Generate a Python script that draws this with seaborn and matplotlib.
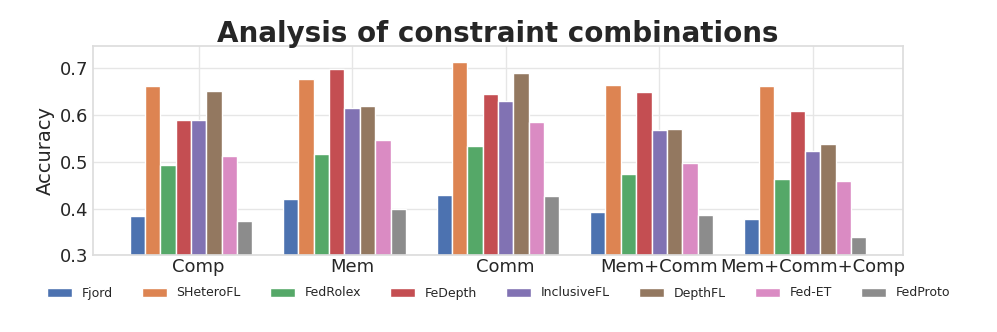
import numpy as np
import matplotlib
matplotlib.use('Agg')
import matplotlib.pyplot as plt
import seaborn as sns

# constraint combinations on the x axis
combos = ['Comp', 'Mem', 'Comm', 'Mem+Comm', 'Mem+Comm+Comp']
methods = ['Fjord', 'SHeteroFL', 'FedRolex', 'FeDepth', 'InclusiveFL', 'DepthFL', 'Fed-ET', 'FedProto']

# accuracy per method, one value per combination
fjord = [0.383, 0.421, 0.429, 0.392, 0.378]
sheterofl = [0.662, 0.678, 0.714, 0.664, 0.662]
fedrolex = [0.494, 0.516, 0.533, 0.474, 0.464]
fedepth = [0.590, 0.699, 0.646, 0.650, 0.608]
inclusivefl = [0.590, 0.614, 0.630, 0.569, 0.522]
depthfl = [0.651, 0.619, 0.689, 0.570, 0.537]
fed_et = [0.512, 0.546, 0.585, 0.498, 0.458]
fedproto = [0.373, 0.398, 0.427, 0.387, 0.340]

scores = [fjord, sheterofl, fedrolex, fedepth, inclusivefl, depthfl, fed_et, fedproto]

sns.set_theme(style='whitegrid', font_scale=1.2)
colors = sns.color_palette('deep', len(methods))

fig, ax = plt.subplots(figsize=(9.97, 3.32), dpi=100)
fig.subplots_adjust(left=0.093, right=0.906, top=0.862, bottom=0.231)

x = np.arange(len(combos))
width = 0.1
for i, (name, vals) in enumerate(zip(methods, scores)):
    ax.bar(x + (i - len(methods) / 2) * width, vals, width, label=name, color=colors[i])

ax.set_xticks(x)
ax.set_xticklabels(combos, fontsize=13)
ax.tick_params(axis='x', length=0, pad=2)
ax.tick_params(axis='y', labelsize=13, length=0, pad=3)
ax.set_ylim(0.3, 0.748)
ax.set_ylabel('Accuracy', fontsize=14, labelpad=4)
ax.set_title('Analysis of constraint combinations', fontsize=20, fontweight='bold', pad=2.5)
for s in ax.spines.values():
    s.set_color('#dddddd')
ax.grid(color='#e6e6e6')

fig.legend(loc='center', ncol=len(methods), frameon=False, fontsize=9,
           bbox_to_anchor=(0.5, 1 - 293 / 332), columnspacing=2.3, handlelength=2.0)

plt.savefig('out.png', dpi=100)
